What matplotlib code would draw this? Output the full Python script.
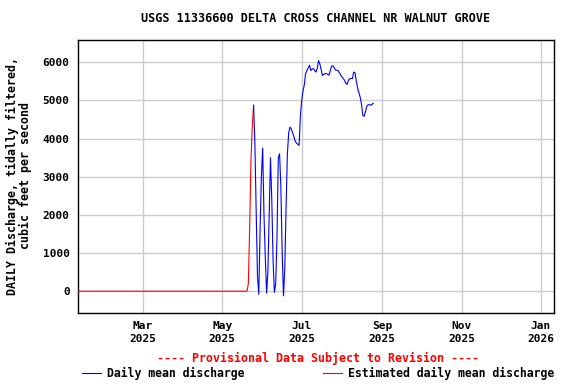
import pandas as pd
import matplotlib
matplotlib.use("Agg")
import matplotlib.pyplot as plt
import matplotlib.dates as mdates

title = "USGS 11336600 DELTA CROSS CHANNEL NR WALNUT GROVE"
ylabel = "DAILY Discharge, tidally filtered,\ncubic feet per second"

# estimated daily mean (red): flat zero then ramp up in late May
est_dates = ["2025-01-10", "2025-05-20", "2025-05-21", "2025-05-22",
             "2025-05-23", "2025-05-24", "2025-05-25"]
est_values = [0, 0, 210, 1680, 3430, 4300, 4870]

# daily mean (blue), one value per day starting 2025-05-25
daily_start = "2025-05-25"
daily_values = [
    4870, 3900, 2100, 400, -80, 1600, 3000, 3750, 2000, 900,
    -50, 500, 2000, 3500, 2400, 800, -30, 200, 1400, 3500,
    3600, 2700, 1000, -120, 600, 2200, 3600, 4150, 4300, 4250,
    4150, 4050, 3930, 3880, 3850, 3820, 4600, 5000, 5250, 5400,
    5700, 5780, 5850, 5920, 5780, 5820, 5830, 5780, 5740, 5850,
    6040, 5950, 5800, 5650, 5680, 5700, 5700, 5680, 5660, 5780,
    5900, 5900, 5860, 5790, 5790, 5780, 5720, 5660, 5610, 5570,
    5520, 5440, 5420, 5530, 5570, 5570, 5570, 5740, 5720, 5500,
    5320, 5200, 5080, 4900, 4600, 4580, 4700, 4840, 4880, 4890,
    4870, 4890, 4920,
]

x_ticks = ["2025-03-01", "2025-05-01", "2025-07-01", "2025-09-01",
           "2025-11-01", "2026-01-01"]
y_ticks = [0, 1000, 2000, 3000, 4000, 5000, 6000]

mono = "DejaVu Sans Mono"

fig = plt.figure(figsize=(5.76, 3.84), dpi=100)
ax = fig.add_axes([78 / 576, 1 - 313 / 384, (554 - 78) / 576, (313 - 40) / 384])

est_x = pd.to_datetime(est_dates)
daily_x = pd.date_range(daily_start, periods=len(daily_values), freq="D")

ax.plot(est_x, est_values, color="#ff0000", lw=0.8, zorder=3)
ax.plot(daily_x, daily_values, color="#0000ff", lw=0.8, zorder=4)

ax.set_xlim(pd.Timestamp("2025-01-10"), pd.Timestamp("2026-01-11"))
ax.set_ylim(-570, 6580)

ax.set_xticks(pd.to_datetime(x_ticks))
ax.xaxis.set_major_formatter(mdates.DateFormatter("%b\n%Y"))
ax.set_yticks(y_ticks)

ax.grid(True, color="#cccccc", lw=1.0)
ax.set_axisbelow(True)
ax.tick_params(length=0, pad=6, labelsize=8)
for lab in ax.get_xticklabels() + ax.get_yticklabels():
    lab.set_family(mono)
    lab.set_fontweight("bold")
for lab in ax.get_xticklabels():
    lab.set_linespacing(1.3)
for s in ax.spines.values():
    s.set_linewidth(1.0)
    s.set_color("black")

fig.text(316 / 576, 1 - 19 / 384, title, ha="center", va="center",
         family=mono, fontweight="bold", fontsize=8.5)
fig.text(19 / 576, 1 - 176 / 384, ylabel, ha="center", va="center",
         rotation=90, family=mono, fontweight="bold", fontsize=8.4,
         linespacing=0.95)

fig.text(318 / 576, 1 - 358 / 384, "---- Provisional Data Subject to Revision ----",
         ha="center", va="center", color="#ff0000", family=mono,
         fontweight="bold", fontsize=8.4)

# legend row
ly = 1 - 373 / 384
fig.add_artist(plt.Line2D([82 / 576, 101 / 576], [ly, ly], color="#0000ff", lw=0.8))
fig.text(107 / 576, ly, "Daily mean discharge", ha="left", va="center",
         family=mono, fontweight="bold", fontsize=8.3)
fig.add_artist(plt.Line2D([323 / 576, 342 / 576], [ly, ly], color="#ff0000", lw=0.8))
fig.text(348 / 576, ly, "Estimated daily mean discharge", ha="left", va="center",
         family=mono, fontweight="bold", fontsize=8.3)

fig.savefig("out.png", dpi=100)
